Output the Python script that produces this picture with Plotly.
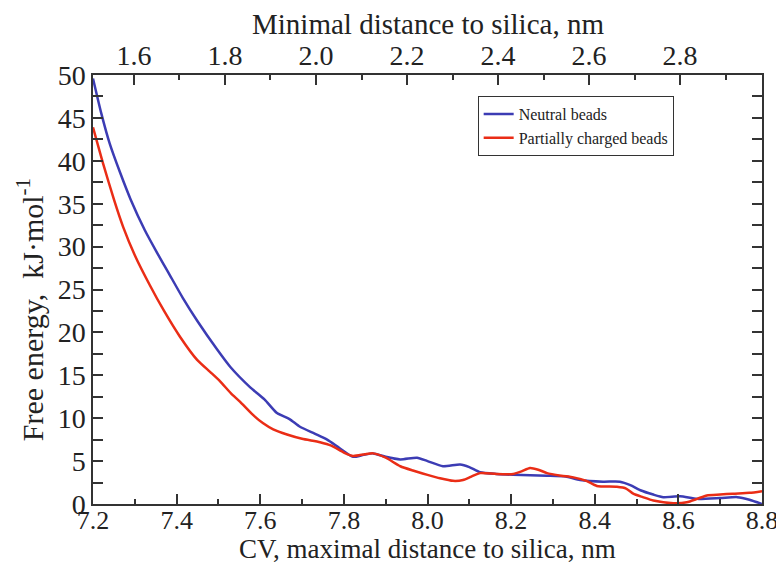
import plotly.graph_objects as go

# Neutral beads (blue)
cv_neutral = [7.20, 7.22, 7.24, 7.265, 7.29, 7.324, 7.353, 7.38, 7.415, 7.45, 7.497, 7.528,
              7.576, 7.61, 7.64, 7.67, 7.695, 7.73, 7.76, 7.79, 7.822, 7.845, 7.87, 7.90,
              7.935, 7.975, 8.00, 8.037, 8.078, 8.10, 8.126, 8.165, 8.205, 8.286, 8.33,
              8.365, 8.42, 8.46, 8.485, 8.509, 8.54, 8.564, 8.604, 8.645, 8.70, 8.741,
              8.77, 8.80]
fe_neutral = [49.6, 45.5, 42.0, 38.6, 35.5, 31.9, 29.3, 27.0, 24.0, 21.3, 18.0, 16.0,
              13.6, 12.2, 10.6, 9.9, 9.0, 8.2, 7.5, 6.5, 5.5, 5.7, 5.9, 5.5,
              5.2, 5.4, 5.0, 4.4, 4.6, 4.3, 3.7, 3.5, 3.4, 3.3, 3.2,
              2.8, 2.6, 2.6, 2.2, 1.6, 1.1, 0.8, 0.9, 0.6, 0.7, 0.8,
              0.5, 0.0]

# Partially charged beads (red)
cv_charged = [7.20, 7.224, 7.25, 7.272, 7.30, 7.336, 7.37, 7.408, 7.449, 7.48, 7.504, 7.53,
              7.552, 7.58, 7.607, 7.631, 7.664, 7.70, 7.743, 7.77, 7.80, 7.822, 7.85, 7.87,
              7.90, 7.935, 7.965, 8.00, 8.03, 8.061, 8.085, 8.105, 8.126, 8.165, 8.205,
              8.225, 8.245, 8.265, 8.286, 8.32, 8.349, 8.38, 8.405, 8.453, 8.475, 8.492,
              8.515, 8.54, 8.588, 8.62, 8.645, 8.668, 8.70, 8.73, 8.77, 8.80]
fe_charged = [43.9, 39.7, 35.5, 32.3, 29.0, 25.5, 22.5, 19.5, 16.8, 15.4, 14.3, 12.9,
              11.9, 10.5, 9.4, 8.7, 8.1, 7.6, 7.2, 6.8, 6.0, 5.6, 5.8, 5.9,
              5.4, 4.4, 3.9, 3.4, 3.0, 2.7, 2.8, 3.2, 3.6, 3.5, 3.5,
              3.8, 4.2, 4.0, 3.6, 3.3, 3.1, 2.7, 2.1, 2.0, 1.8, 1.2,
              0.8, 0.4, 0.1, 0.2, 0.6, 1.0, 1.1, 1.2, 1.3, 1.5]

bottom_ticks = [7.2, 7.4, 7.6, 7.8, 8.0, 8.2, 8.4, 8.6, 8.8]
top_ticks = [1.6, 1.8, 2.0, 2.2, 2.4, 2.6, 2.8]
y_ticks = [0, 5, 10, 15, 20, 25, 30, 35, 40, 45, 50]

FONT = 'Liberation Serif, Times New Roman, serif'
AX = '#333333'
TXT = '#222222'

fig = go.Figure()
fig.add_trace(go.Scatter(x=cv_neutral, y=fe_neutral, mode='lines', name='Neutral beads',
                         line=dict(color='#3c3cb4', width=2.5, shape='spline', smoothing=0.6)))
fig.add_trace(go.Scatter(x=cv_charged, y=fe_charged, mode='lines', name='Partially charged beads',
                         line=dict(color='#ea2d16', width=2.5, shape='spline', smoothing=0.6)))

tick_common = dict(ticks='inside', ticklen=10, tickwidth=1.5, tickcolor=AX,
                   showline=True, linecolor=AX, linewidth=1.5, showgrid=False,
                   zeroline=False, tickfont=dict(size=28), automargin=False)

# page body has an 8px margin, so the figure is 8px smaller than the window
fig.update_layout(
    width=776, height=554,
    paper_bgcolor='white', plot_bgcolor='white',
    margin=dict(l=85, r=22, t=67, b=58),
    font=dict(family=FONT, color=TXT, size=20),
    showlegend=True,
    legend=dict(x=0.575, y=0.951, xanchor='left', yanchor='top',
                bgcolor='white', bordercolor=AX, borderwidth=1,
                font=dict(size=16, family=FONT), tracegroupgap=0, itemwidth=30),
    xaxis=dict(range=[7.2, 8.8], tickvals=bottom_ticks,
               ticktext=[f'{v:.1f}' for v in bottom_ticks], ticklabelstandoff=-8,
               minor=dict(ticks='inside', dtick=0.1, ticklen=5, tickcolor=AX, tickwidth=1.5),
               **dict(tick_common, tickfont=dict(size=26))),
    xaxis2=dict(overlaying='x', side='top', range=[1.51, 2.98], tickvals=top_ticks,
                ticktext=[f'{v:.1f}' for v in top_ticks], ticklabelstandoff=-3,
                minor=dict(ticks='inside', dtick=0.1, ticklen=5, tickcolor=AX, tickwidth=1.5),
                **tick_common),
    yaxis=dict(range=[0, 50], tickvals=y_ticks, mirror='allticks',
               minor=dict(ticks='inside', dtick=2.5, ticklen=5, tickcolor=AX, tickwidth=1.5),
               **tick_common),
)

# axis titles as annotations (positioned like the original)
fig.add_annotation(text='CV, maximal distance to silica, nm', xref='paper', yref='paper',
                   x=0.5, y=-0.104, xanchor='center', yanchor='middle', showarrow=False,
                   font=dict(size=27, family=FONT, color=TXT))
fig.add_annotation(text='Minimal distance to silica, nm', xref='paper', yref='paper',
                   x=0.5, y=1.118, xanchor='center', yanchor='middle', showarrow=False,
                   font=dict(size=29, family=FONT, color=TXT))
fig.add_annotation(text='Free energy,  kJ·mol<sup>-1</sup>', xref='paper', yref='paper',
                   x=-0.094, y=0.452, xanchor='center', yanchor='middle', showarrow=False,
                   textangle=-90, font=dict(size=30, family=FONT, color=TXT))

# dummy trace so the top axis is drawn
fig.add_trace(go.Scatter(x=top_ticks, y=[None] * len(top_ticks), xaxis='x2',
                         showlegend=False, hoverinfo='skip'))

fig.write_html('out.html')
